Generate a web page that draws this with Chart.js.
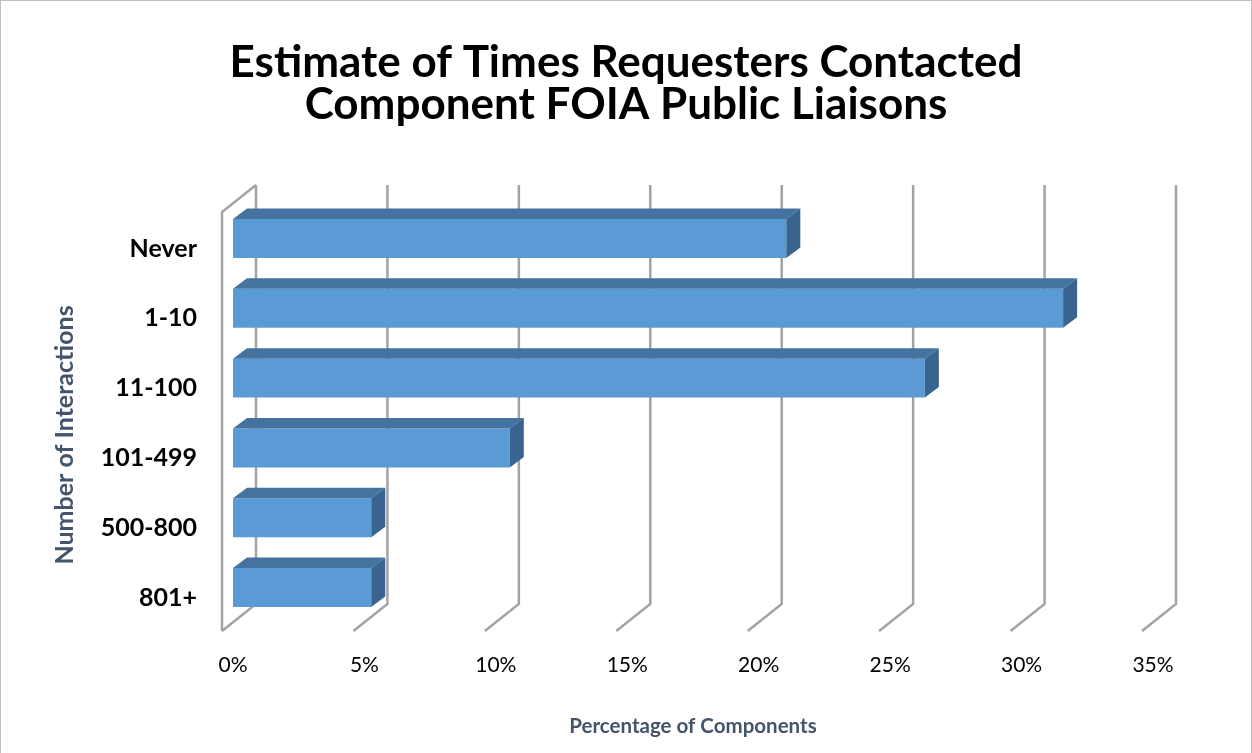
<!DOCTYPE html>
<html>
<head>
<meta charset="utf-8">
<title>Estimate of Times Requesters Contacted Component FOIA Public Liaisons</title>
<script src="https://cdn.jsdelivr.net/npm/chart.js@4.4.1/dist/chart.umd.min.js"></script>
<style>
    html, body { margin: 0; padding: 0; background: #fff; }
    #wrap { width: 1252px; height: 753px; }
</style>
</head>
<body>
<div id="wrap"><canvas id="foiaChart" width="1252" height="753"></canvas></div>
<script>
// chart data
const categories = ['Never', '1-10', '11-100', '101-499', '500-800', '801+'];
const percentages = [21.05, 31.58, 26.32, 10.53, 5.26, 5.26];
const tickValues = [0, 5, 10, 15, 20, 25, 30, 35];

// 3D look: offsets measured from the bar front plane
const FRONT = { dx: -11, dy: 8.5 };   // front edge of the floor / left wall
const BACK = { dx: 23, dy: -18.5 };   // back wall
const BAR_DEPTH = { dx: 14, dy: -10.5 };

const gridColor = '#A3A3A3';
const barFront = '#5B9BD5';
const barTop = '#44739F';
const barSide = '#38648F';
const axisTitleColor = '#44546A';

function poly(ctx, pts, fill) {
    ctx.beginPath();
    ctx.moveTo(pts[0][0], pts[0][1]);
    for (let i = 1; i < pts.length; i++) ctx.lineTo(pts[i][0], pts[i][1]);
    ctx.closePath();
    ctx.fillStyle = fill;
    ctx.fill();
}

// walls, grid lines, bar faces, border
const wallsPlugin = {
    id: 'walls',
    beforeDatasetsDraw(chart) {
        const ctx = chart.ctx;
        const area = chart.chartArea;
        const xs = chart.scales.x;
        ctx.save();
        ctx.strokeStyle = gridColor;
        ctx.lineWidth = 2.5;

        // left side wall
        const lx = xs.getPixelForValue(0);
        ctx.beginPath();
        ctx.moveTo(lx + BACK.dx, area.top + BACK.dy);
        ctx.lineTo(lx + FRONT.dx, area.top + FRONT.dy);
        ctx.lineTo(lx + FRONT.dx, area.bottom + FRONT.dy);
        ctx.stroke();

        // back wall verticals + floor diagonals
        tickValues.forEach(v => {
            const x = xs.getPixelForValue(v);
            ctx.beginPath();
            ctx.moveTo(x + BACK.dx, area.top + BACK.dy);
            ctx.lineTo(x + BACK.dx, area.bottom + BACK.dy);
            ctx.lineTo(x + FRONT.dx, area.bottom + FRONT.dy);
            ctx.stroke();
        });
        ctx.restore();
    },
    afterDatasetsDraw(chart) {
        // top and side faces of each bar
        const ctx = chart.ctx;
        const meta = chart.getDatasetMeta(0);
        ctx.save();
        meta.data.forEach(bar => {
            const p = bar.getProps(['x', 'y', 'base', 'height'], true);
            const t = p.y - p.height / 2;
            const b = p.y + p.height / 2;
            poly(ctx, [[p.base, t], [p.x, t], [p.x + BAR_DEPTH.dx, t + BAR_DEPTH.dy], [p.base + BAR_DEPTH.dx, t + BAR_DEPTH.dy]], barTop);
            poly(ctx, [[p.x, t], [p.x + BAR_DEPTH.dx, t + BAR_DEPTH.dy], [p.x + BAR_DEPTH.dx, b + BAR_DEPTH.dy], [p.x, b]], barSide);
        });
        ctx.restore();
    },
    afterDraw(chart) {
        const ctx = chart.ctx;
        ctx.save();
        // y axis title (placed by hand, Excel centres it lower than the plot)
        ctx.translate(65, 435);
        ctx.rotate(-Math.PI / 2);
        ctx.fillStyle = axisTitleColor;
        ctx.font = 'bold 25px Lato';
        ctx.textAlign = 'center';
        ctx.textBaseline = 'middle';
        ctx.fillText('Number of Interactions', 0, 0);
        ctx.restore();

        ctx.save();
        ctx.strokeStyle = '#BFBFBF';
        ctx.lineWidth = 1;
        ctx.strokeRect(0.5, 0.5, chart.width - 1, chart.height);
        ctx.restore();
    }
};

const ctx = document.getElementById('foiaChart').getContext('2d');
const foiaChart = new Chart(ctx, {
    type: 'bar',
    data: {
        labels: categories,
        datasets: [{
            data: percentages,
            backgroundColor: barFront,
            borderWidth: 0,
            barPercentage: 0.9,
            categoryPercentage: 0.62
        }]
    },
    options: {
        indexAxis: 'y',
        responsive: false,
        animation: false,
        layout: { padding: 0 },
        scales: {
            x: {
                min: 0,
                max: 35,
                afterFit: s => { s.height = 130.5; },
                afterBuildTicks: s => { s.ticks = tickValues.map(v => ({ value: v })); },
                grid: { display: false, drawTicks: false },
                border: { display: false },
                ticks: {
                    padding: 30,
                    color: '#000',
                    font: { family: 'Lato', size: 21 },
                    callback: v => v + '%'
                },
                title: {
                    display: true,
                    text: 'Percentage of Components',
                    color: axisTitleColor,
                    font: { family: 'Lato', size: 20.5, weight: 'bold' },
                    padding: { top: 0, bottom: 14 }
                }
            },
            y: {
                afterFit: s => { s.width = 233; },
                grid: { display: false, drawTicks: false },
                border: { display: false },
                ticks: {
                    padding: 36,
                    labelOffset: 10,
                    color: '#000',
                    font: { family: 'Lato', size: 25, weight: 'bold' }
                }
            },
            // empty right axis, only reserves the space right of the plot
            y2: {
                type: 'linear',
                position: 'right',
                afterFit: s => { s.width = 99; },
                grid: { display: false, drawTicks: false },
                border: { display: false },
                ticks: { display: false }
            }
        },
        plugins: {
            legend: { display: false },
            tooltip: { enabled: false },
            title: {
                display: true,
                text: ['Estimate of Times Requesters Contacted', 'Component FOIA Public Liaisons'],
                color: '#000',
                font: { family: 'Lato', size: 44, weight: 'bold', lineHeight: 0.95 },
                padding: { top: 42, bottom: 78 }
            }
        }
    },
    plugins: [wallsPlugin]
});
</script>
</body>
</html>
